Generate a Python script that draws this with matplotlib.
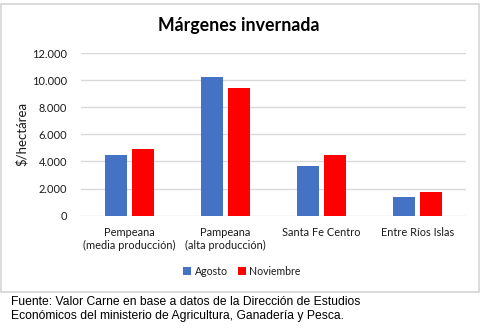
import matplotlib
matplotlib.use("Agg")
import matplotlib.pyplot as plt
import numpy as np
from matplotlib.patches import Rectangle

categories = ["Pempeana\n(media producción)", "Pampeana\n(alta producción)",
              "Santa Fe Centro", "Entre Ríos Islas"]
agosto = [4500, 10200, 3700, 1400]
noviembre = [4950, 9450, 4500, 1750]
yticks = [0, 2000, 4000, 6000, 8000, 10000, 12000]
ytick_labels = ["0", "2.000", "4.000", "6.000", "8.000", "10.000", "12.000"]

W, H = 481, 328
fig = plt.figure(figsize=(W / 100, H / 100), dpi=100)

# chart frame
fig.patches.append(Rectangle((1 / W, 1 - 292 / H), 478 / W, 288 / H,
                             transform=fig.transFigure, fill=False,
                             edgecolor="#d9d9d9", linewidth=1.3))

ax = fig.add_axes([81 / W, 1 - 215.7 / H, 385 / W, (215.7 - 53) / H])
x = np.arange(len(categories))
bw = 0.229
gap = 0.05
ax.bar(x - (bw + gap) / 2, agosto, bw, color="#4472C4", label="Agosto", zorder=3)
ax.bar(x + (bw + gap) / 2, noviembre, bw, color="#FF0000", label="Noviembre", zorder=3)

ax.set_xlim(-0.5, len(categories) - 0.5)
ax.set_ylim(0, 12000)
ax.set_yticks(yticks)
ax.set_yticklabels(ytick_labels)
ax.set_xticks(x)
ax.set_xticklabels(categories, linespacing=1.25)
for s in ax.spines.values():
    s.set_visible(False)
ax.grid(axis="y", color="#d9d9d9", linewidth=1.0, zorder=0)
ax.tick_params(axis="both", length=0, colors="#1a1a1a", labelsize=7.9)
ax.tick_params(axis="y", pad=10)
ax.tick_params(axis="x", pad=8)
for t in ax.get_xticklabels() + ax.get_yticklabels():
    t.set_family("Lato")

ax.set_ylabel("$/hectárea", family="Lato", fontsize=9.5, color="#1a1a1a", labelpad=3)

fig.text(239 / W, 1 - 26 / H, "Márgenes invernada", ha="center", va="center",
         family="Lato", fontweight="bold", fontsize=12.8, color="#000000")

ax.legend(loc="center", bbox_to_anchor=(242 / W, 1 - 271.5 / H),
          bbox_transform=fig.transFigure, ncol=2, frameon=False,
          prop={"family": "Lato", "size": 7.6}, handlelength=0.75,
          handleheight=0.75, handletextpad=0.3, columnspacing=1.0,
          labelcolor="#1a1a1a")

fig.text(11 / W, 1 - 302 / H, "Fuente: Valor Carne en base a datos de la Dirección de Estudios",
         family="Liberation Sans", fontsize=8.75, va="center", ha="left", color="#000000")
fig.text(11 / W, 1 - 316 / H, "Económicos del ministerio de Agricultura, Ganadería y Pesca.",
         family="Liberation Sans", fontsize=8.75, va="center", ha="left", color="#000000")

fig.savefig("out.png", dpi=100, facecolor="white")
